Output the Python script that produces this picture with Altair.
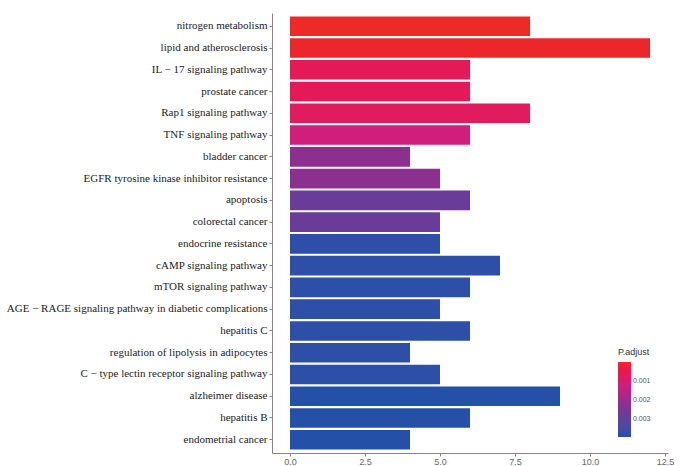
import altair as alt
import pandas as pd

pathways = [
    "nitrogen metabolism",
    "lipid and atherosclerosis",
    "IL − 17 signaling pathway",
    "prostate cancer",
    "Rap1 signaling pathway",
    "TNF signaling pathway",
    "bladder cancer",
    "EGFR tyrosine kinase inhibitor resistance",
    "apoptosis",
    "colorectal cancer",
    "endocrine resistance",
    "cAMP signaling pathway",
    "mTOR signaling pathway",
    "AGE − RAGE signaling pathway in diabetic complications",
    "hepatitis C",
    "regulation of lipolysis in adipocytes",
    "C − type lectin receptor signaling pathway",
    "alzheimer disease",
    "hepatitis B",
    "endometrial cancer",
]
counts = [8, 12, 6, 6, 8, 6, 4, 5, 6, 5, 5, 7, 6, 5, 6, 4, 5, 9, 6, 4]
padj = [0.00005, 0.0001, 0.0007, 0.0007, 0.0008, 0.0012, 0.0022, 0.0022, 0.0027, 0.0027,
        0.0038, 0.0038, 0.0038, 0.0038, 0.0038, 0.0038, 0.0038, 0.0039, 0.0039, 0.0039]
legend_values = [0.001, 0.002, 0.003]
x_ticks = [0, 2.5, 5, 7.5, 10, 12.5]

# colour stops of the P.adjust gradient (low -> high)
color_stops = [0.00005, 0.0008, 0.0012, 0.0022, 0.0027, 0.0039]
color_range = ["#EC2A28", "#E11C5E", "#D01E7C", "#8C3090", "#6A3C9A", "#2450A8"]

df = pd.DataFrame({"pathway": pathways, "count": counts, "padj": padj})

axis_col = "#8c8282"

# the legend is drawn reversed (small P.adjust at the top), as in the reference,
# by encoding the negated value and printing labels back as positive numbers
neg_stops = [-v for v in color_stops][::-1]
neg_range = color_range[::-1]
neg_legend_values = [-v for v in legend_values]

chart = alt.Chart(df).transform_calculate(
    negp="-datum.padj"
).mark_bar().encode(
    y=alt.Y(
        "pathway:N",
        sort=pathways,
        scale=alt.Scale(paddingInner=0.1, paddingOuter=0.16),
        axis=alt.Axis(
            title=None,
            labelFont="Liberation Serif",
            labelFontSize=11,
            labelColor="#222222",
            domainColor=axis_col,
            tickColor=axis_col,
            tickSize=3,
            labelPadding=2,
            labelLimit=0,
        ),
    ),
    x=alt.X(
        "count:Q",
        scale=alt.Scale(domain=[-0.6, 12.6], nice=False, zero=False),
        axis=alt.Axis(
            values=x_ticks,
            format=".1f",
            grid=False,
            title=None,
            labelFont="Liberation Sans",
            labelFontSize=9,
            labelColor="#666666",
            domainColor=axis_col,
            tickColor=axis_col,
            tickSize=3,
            labelPadding=1,
        ),
    ),
    color=alt.Color(
        "negp:Q",
        scale=alt.Scale(domain=neg_stops, range=neg_range),
        legend=alt.Legend(
            title="P.adjust",
            orient="none",
            legendX=346,
            legendY=335,
            direction="vertical",
            gradientLength=75,
            gradientThickness=13,
            gradientStrokeWidth=0,
            values=neg_legend_values,
            labelExpr="format(-datum.value, '.3f')",
            titleFont="Liberation Sans",
            titleFontSize=9,
            titleFontWeight="normal",
            titleColor="#333333",
            labelFont="Liberation Sans",
            labelFontSize=7,
            labelColor="#555555",
        ),
    ),
).properties(
    width=396,
    height=440,
    padding={"left": 272, "top": 13, "right": 15, "bottom": 13},
    autosize="none",
).configure_view(stroke=None)

chart.save("out.html", embed_options={"renderer": "svg", "actions": False})
